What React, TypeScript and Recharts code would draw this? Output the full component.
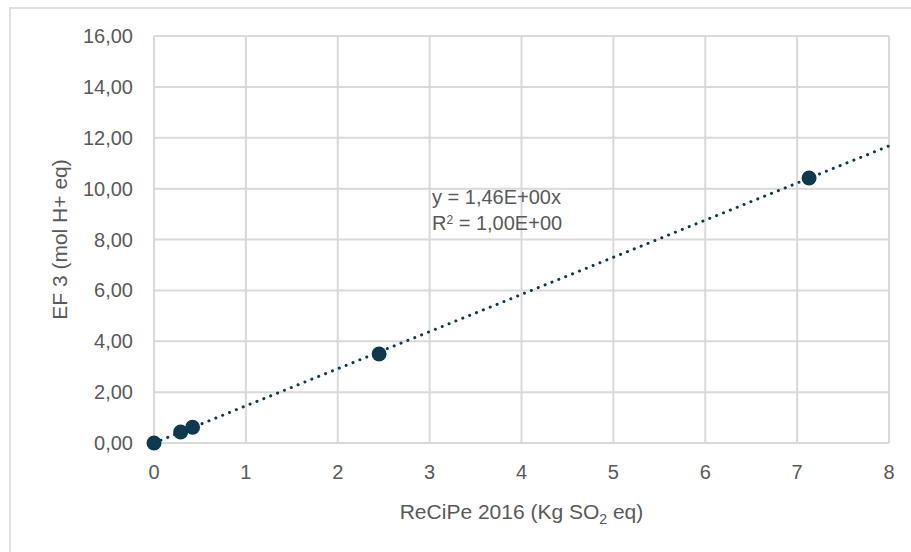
import React from 'react';
import { ScatterChart, Scatter, XAxis, YAxis, CartesianGrid, ReferenceLine } from 'recharts';

const recipeValues = [0, 0.29, 0.42, 2.45, 7.13];
const ef3Values = [0, 0.43, 0.62, 3.5, 10.42];
const xTicks = [0, 1, 2, 3, 4, 5, 6, 7, 8];
const yTicks = [0, 2, 4, 6, 8, 10, 12, 14, 16];
const slope = 1.46;
const equationLine1 = 'y = 1,46E+00x';
const equationLine2Value = ' = 1,00E+00';

const points = recipeValues.map((x, i) => ({ x, y: ef3Values[i] }));
const xMax = xTicks[xTicks.length - 1];

const FONT = '"Liberation Sans", Arial, sans-serif';
const TEXT = '#595959';
const GRID = '#d9d9d9';
const MARK = '#0e3a4f';

const fmtY = (v: number) => v.toFixed(2).replace('.', ',');

const Dot = (props: any) => <circle cx={props.cx} cy={props.cy} r={7.5} fill={MARK} />;

const XLabel = (props: any) => {
  const vb = props.viewBox || {};
  return (
    <text x={vb.x + vb.width / 2} y={vb.y + 76} textAnchor="middle" fill={TEXT} fontSize={21} fontFamily={FONT}>
      ReCiPe 2016 (Kg SO<tspan fontSize={14} dy={5}>2</tspan><tspan dy={-5}> eq)</tspan>
    </text>
  );
};

const YLabel = (props: any) => {
  const vb = props.viewBox || {};
  const cx = vb.x + 59;
  const cy = vb.y + vb.height / 2;
  return (
    <text x={cx} y={cy} transform={`rotate(-90 ${cx} ${cy})`} textAnchor="middle" dominantBaseline="central" fill={TEXT} fontSize={21} fontFamily={FONT}>
      EF 3 (mol H+ eq)
    </text>
  );
};

export default function App() {
  return (
    <div style={{ position: 'absolute', left: 0, top: 0, width: 911, height: 552, background: '#fff', overflow: 'hidden' }}>
      <div style={{ position: 'absolute', left: 9, top: 7, width: 920, height: 570, borderLeft: '2px solid #e0e0e0', borderTop: '2px solid #e0e0e0' }} />
      <div style={{ position: 'absolute', left: 0, top: 0 }}>
        <ScatterChart width={911} height={552} margin={{ top: 36, right: 22, bottom: 0, left: 0 }}>
          <CartesianGrid stroke={GRID} strokeWidth={2} />
          <XAxis
            type="number"
            dataKey="x"
            domain={[0, xMax]}
            ticks={xTicks}
            interval={0}
            height={109}
            axisLine={{ stroke: GRID, strokeWidth: 2 }}
            tickLine={false}
            tickSize={0}
            tickMargin={22}
            tick={{ fill: TEXT, fontSize: 20, fontFamily: FONT }}
            label={<XLabel />}
          />
          <YAxis
            type="number"
            dataKey="y"
            domain={[0, 16]}
            ticks={yTicks}
            interval={0}
            width={154}
            axisLine={{ stroke: GRID, strokeWidth: 2 }}
            tickLine={false}
            tickSize={0}
            tickMargin={21}
            tickFormatter={fmtY}
            tick={{ fill: TEXT, fontSize: 20, fontFamily: FONT }}
            label={<YLabel />}
          />
          <ReferenceLine
            segment={[{ x: 0, y: 0 }, { x: xMax, y: slope * xMax }]}
            stroke={MARK}
            strokeWidth={3}
            strokeDasharray="0.1 7.3"
            strokeLinecap="round"
            ifOverflow="visible"
          />
          <Scatter data={points} shape={<Dot />} isAnimationActive={false} />
        </ScatterChart>
      </div>
      <div style={{ position: 'absolute', left: 432, top: 184, fontFamily: FONT, fontSize: 20, color: TEXT, lineHeight: '26px', whiteSpace: 'nowrap' }}>
        <div>{equationLine1}</div>
        <div>R<sup style={{ fontSize: 12, verticalAlign: 'top', position: 'relative', top: -3 }}>2</sup>{equationLine2Value}</div>
      </div>
    </div>
  );
}
